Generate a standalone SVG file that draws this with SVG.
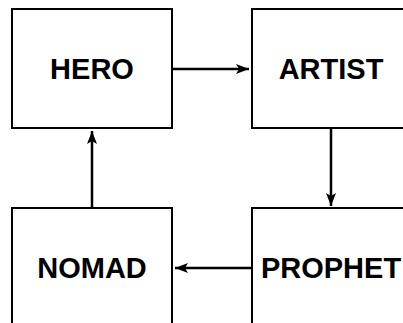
<svg xmlns="http://www.w3.org/2000/svg" width="403" height="323" viewBox="0 0 403 323">
<style>
.box{fill:#fff;stroke:#000;stroke-width:2}
.lbl{font-family:"Liberation Sans",Arial,sans-serif;font-weight:bold;font-size:29px;text-anchor:middle;fill:#000}
.con{stroke:#000;stroke-width:2.5;fill:none;marker-end:url(#ah)}
</style>
<defs>
<marker id="ah" markerUnits="userSpaceOnUse" markerWidth="14" markerHeight="12" refX="13" refY="5.5" orient="auto">
<path d="M0,0.5 L13,5.5 L0,10.5 L3,5.5 Z" fill="#000"/>
</marker>
</defs>
<rect width="403" height="323" fill="#fff"/>
<g id="hero"><rect class="box" x="12" y="9" width="160" height="119"/><text class="lbl" x="92" y="79">HERO</text></g>
<g id="artist"><rect class="box" x="252" y="9" width="160" height="119"/><text class="lbl" x="331" y="79">ARTIST</text></g>
<g id="nomad"><rect class="box" x="12" y="208" width="160" height="119"/><text class="lbl" x="92" y="278">NOMAD</text></g>
<g id="prophet"><rect class="box" x="252" y="208" width="160" height="119"/><text class="lbl" x="331" y="278">PROPHET</text></g>
<g id="connectors">
<line class="con" x1="173" y1="69" x2="249" y2="69"/>
<line class="con" x1="331" y1="129" x2="331" y2="206"/>
<line class="con" x1="251" y1="268" x2="175" y2="268"/>
<line class="con" x1="92" y1="207" x2="92" y2="131"/>
</g>
</svg>
